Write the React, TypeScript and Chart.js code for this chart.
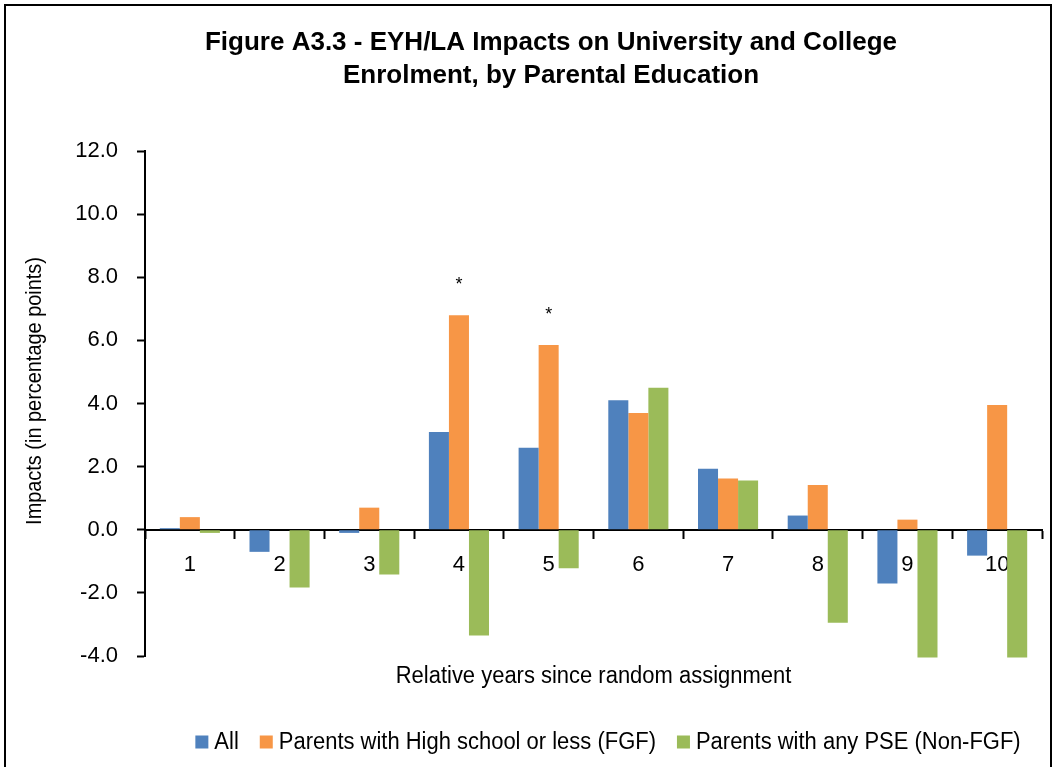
import React, { useEffect, useRef } from "react";
import { Chart, registerables } from "chart.js";

Chart.register(...registerables);

const categories = ["1", "2", "3", "4", "5", "6", "7", "8", "9", "10"];
const allValues = [0.05, -0.7, -0.1, 3.1, 2.6, 4.1, 1.93, 0.45, -1.7, -0.82];
const fgfValues = [0.4, 0, 0.7, 6.8, 5.85, 3.7, 1.62, 1.42, 0.32, 3.95];
const nonFgfValues = [-0.1, -1.83, -1.42, -3.35, -1.22, 4.5, 1.56, -2.95, -4.05, -4.05];
const seriesLabels = [
  "All",
  "Parents with High school or less (FGF)",
  "Parents with any PSE (Non-FGF)",
];
const seriesColors = ["#4F81BD", "#F79646", "#9BBB59"];
const significantFgf = [3, 4];
const titleLines = [
  "Figure A3.3 - EYH/LA Impacts on University and College",
  "Enrolment, by Parental Education",
];
const yAxisTitle = "Impacts (in percentage points)";
const xAxisTitle = "Relative years since random assignment";
const yMin = -4;
const yMax = 12;
const yStep = 2;

const FONT = '"Liberation Sans Narrow", "Arial Narrow", "Liberation Sans", Arial, sans-serif';

function drawText(ctx: any, text: string, x: number, y: number, sx: number, align: string) {
  ctx.save();
  ctx.translate(x, y);
  ctx.scale(sx, 1);
  ctx.textAlign = align;
  ctx.fillText(text, 0, 0);
  ctx.restore();
}

const decorPlugin = {
  id: "decor",
  afterDatasetsDraw(chart: any) {
    const ctx = chart.ctx;
    ctx.save();
    ctx.fillStyle = "#000";
    const meta = chart.getDatasetMeta(1);
    ctx.font = `18px ${FONT}`;
    ctx.textAlign = "center";
    ctx.textBaseline = "middle";
    significantFgf.forEach((i) => {
      const el = meta.data[i];
      if (el) ctx.fillText("*", el.x, el.y - 30);
    });
    ctx.restore();
  },
  afterDraw(chart: any) {
    const ctx = chart.ctx;
    const area = chart.chartArea;
    ctx.save();
    ctx.fillStyle = "#000";
    ctx.textBaseline = "middle";
    // title
    ctx.font = `bold 26px ${FONT}`;
    drawText(ctx, titleLines[0], 551, 43, 1, "center");
    drawText(ctx, titleLines[1], 551, 76, 1, "center");
    // x axis title
    ctx.font = `23px ${FONT}`;
    drawText(ctx, xAxisTitle, (area.left + area.right) / 2, 677, 0.955, "center");
    // y axis title
    ctx.save();
    ctx.translate(35, 391);
    ctx.rotate(-Math.PI / 2);
    ctx.font = `22px ${FONT}`;
    drawText(ctx, yAxisTitle, 0, 0, 0.905, "center");
    ctx.restore();
    // legend
    ctx.font = `23px ${FONT}`;
    const sx = 0.955;
    const y = 742;
    const box = 13;
    const gapBoxText = 6;
    const gapItems = 21;
    const widths = chart.data.datasets.map(
      (d: any) => box + gapBoxText + ctx.measureText(d.label).width * sx
    );
    const total = widths.reduce((a: number, b: number) => a + b, 0) + gapItems * (widths.length - 1);
    let x = 608 - total / 2;
    chart.data.datasets.forEach((d: any, i: number) => {
      ctx.fillStyle = d.backgroundColor;
      ctx.fillRect(x, y - box / 2, box, box);
      ctx.fillStyle = "#000";
      drawText(ctx, d.label, x + box + gapBoxText, y + 1, sx, "left");
      x += widths[i] + gapItems;
    });
    ctx.restore();
  },
};

export default function App() {
  const canvasRef = useRef<HTMLCanvasElement | null>(null);

  useEffect(() => {
    if (!canvasRef.current) return;
    const seriesValues = [allValues, fgfValues, nonFgfValues];
    const chart = new Chart(canvasRef.current, {
      type: "bar",
      data: {
        labels: categories,
        datasets: seriesLabels.map((label, i) => ({
          label,
          data: seriesValues[i],
          backgroundColor: seriesColors[i],
          borderWidth: 0,
          categoryPercentage: 0.67,
          barPercentage: 1,
          clip: false as any,
        })),
      },
      options: {
        responsive: false,
        animation: false,
        devicePixelRatio: 1,
        layout: { padding: { top: 151, bottom: 111, right: 14, left: 0 } },
        plugins: {
          legend: { display: false },
          title: { display: false },
          tooltip: { enabled: false },
        },
        scales: {
          x: {
            type: "category",
            position: { y: 0 } as any,
            z: 1,
            grid: {
              display: true,
              drawOnChartArea: false,
              drawTicks: true,
              tickLength: 8,
              tickWidth: 2,
              tickColor: "#000",
              offset: true,
            },
            border: { display: true, color: "#000", width: 2 },
            ticks: {
              color: "#000",
              font: { family: FONT, size: 22 },
              padding: 14,
              maxRotation: 0,
            },
          },
          y: {
            min: yMin,
            max: yMax,
            z: 1,
            afterFit(scale: any) {
              scale.width = 145;
            },
            grid: {
              display: true,
              drawOnChartArea: false,
              drawTicks: true,
              tickLength: 8,
              tickWidth: 2,
              tickColor: "#000",
            },
            border: { display: true, color: "#000", width: 2 },
            ticks: {
              stepSize: yStep,
              color: "#000",
              font: { family: FONT, size: 22 },
              padding: 19,
              callback: (v: any) => Number(v).toFixed(1),
            },
          },
        },
      },
      plugins: [decorPlugin],
    });
    return () => chart.destroy();
  }, []);

  return (
    <div
      style={{
        position: "absolute",
        left: 0,
        top: 0,
        width: 1056,
        height: 767,
        background: "#fff",
        overflow: "hidden",
      }}
    >
      <canvas ref={canvasRef} width={1056} height={767} style={{ display: "block" }} />
      <div
        style={{
          position: "absolute",
          left: 4,
          top: 4,
          width: 1048,
          height: 800,
          border: "2px solid #000",
          boxSizing: "border-box",
          pointerEvents: "none",
        }}
      />
    </div>
  );
}
